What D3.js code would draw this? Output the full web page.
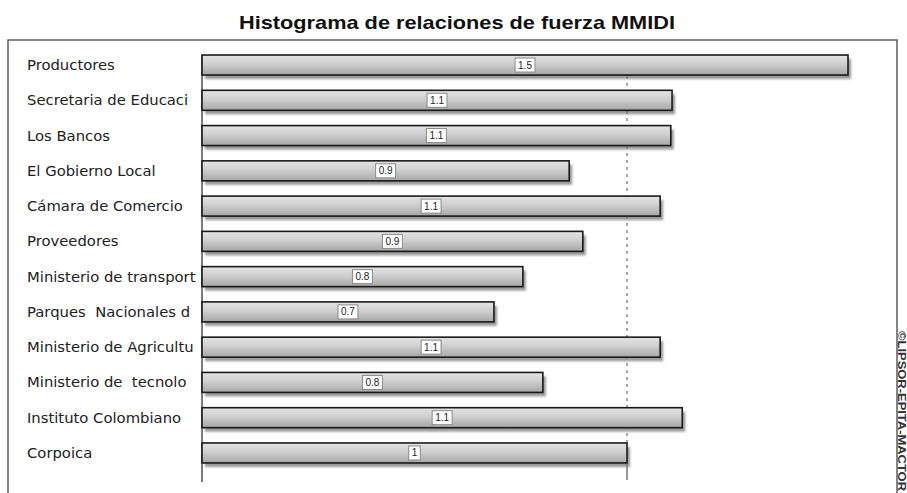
<!DOCTYPE html>
<html>
<head>
<meta charset="utf-8">
<script src="https://cdn.jsdelivr.net/npm/d3@7"></script>
<style>
  body { margin: 0; background: #fff; }
  svg { display: block; }
</style>
</head>
<body>
<script>
// data
var categories = ["Productores", "Secretaria de Educaci", "Los Bancos", "El Gobierno Local",
  "Cámara de Comercio", "Proveedores", "Ministerio de transport", "Parques  Nacionales d",
  "Ministerio de Agricultu", "Ministerio de  tecnolo", "Instituto Colombiano", "Corpoica"];
var values = [1.52, 1.106, 1.103, 0.864, 1.078, 0.896, 0.755, 0.687, 1.078, 0.802, 1.13, 1.0];
var gridValues = [1];

var width = 907, height = 493;

var svg = d3.select("body").append("svg")
  .attr("width", width)
  .attr("height", height);

var defs = svg.append("defs");
var grad = defs.append("linearGradient")
  .attr("id", "barGrad")
  .attr("x1", 0).attr("y1", 0).attr("x2", 0).attr("y2", 1);
grad.append("stop").attr("offset", "0%").attr("stop-color", "#e4e4e4");
grad.append("stop").attr("offset", "45%").attr("stop-color", "#cfcfcf");
grad.append("stop").attr("offset", "100%").attr("stop-color", "#a6a6a6");

var blur = defs.append("filter").attr("id", "soft")
  .attr("x", "-10%").attr("y", "-50%").attr("width", "120%").attr("height", "200%");
blur.append("feGaussianBlur").attr("stdDeviation", 1.3);

//title
svg.append("text")
  .attr("x", 457)
  .attr("y", 29)
  .attr("text-anchor", "middle")
  .attr("font-family", "Liberation Sans, Arial, sans-serif")
  .attr("font-weight", "bold")
  .attr("font-size", 19)
  .attr("textLength", 436)
  .attr("lengthAdjust", "spacingAndGlyphs")
  .attr("fill", "#111")
  .text("Histograma de relaciones de fuerza MMIDI");

//frame
svg.append("rect")
  .attr("x", 8).attr("y", 40)
  .attr("width", 889).attr("height", 520)
  .attr("fill", "none")
  .attr("stroke", "#444")
  .attr("stroke-width", 1.3);

//scales
var xScale = d3.scaleLinear().domain([0, 1]).range([202, 627]);
var yScale = d3.scaleBand()
  .domain(categories)
  .range([47.4, 470.6])
  .paddingInner(0.433)
  .paddingOuter(0.2165);

//grid line at 1 and axis
svg.selectAll(".grid")
  .data(gridValues)
  .enter().append("line")
  .attr("class", "grid")
  .attr("x1", function(d){ return xScale(d); })
  .attr("x2", function(d){ return xScale(d); })
  .attr("y1", 55).attr("y2", 465)
  .attr("stroke", "#555")
  .attr("stroke-width", 1)
  .attr("stroke-dasharray", "3,4");

svg.selectAll(".tick")
  .data(gridValues)
  .enter().append("line")
  .attr("class", "tick")
  .attr("x1", function(d){ return xScale(d); })
  .attr("x2", function(d){ return xScale(d); })
  .attr("y1", 464).attr("y2", 480)
  .attr("stroke", "#333");

svg.append("line")
  .attr("x1", xScale(0)).attr("x2", xScale(0))
  .attr("y1", 55).attr("y2", 482)
  .attr("stroke", "#222")
  .attr("stroke-width", 1.2);

//category labels
svg.selectAll(".cat")
  .data(categories)
  .enter().append("text")
  .attr("class", "cat")
  .attr("x", 27)
  .attr("y", function(d){ return yScale(d) + yScale.bandwidth() / 2 + 5; })
  .attr("font-family", "DejaVu Sans, sans-serif")
  .attr("font-size", 14.8)
  .attr("fill", "#222")
  .style("white-space", "pre")
  .text(function(d){ return d; });

var rows = categories.map(function(c, i){ return {cat: c, value: values[i]}; });

//shadows
svg.selectAll(".shadow")
  .data(rows)
  .enter().append("rect")
  .attr("class", "shadow")
  .attr("x", function(d){ return xScale(0) + 3; })
  .attr("y", function(d){ return yScale(d.cat) + 4; })
  .attr("width", function(d){ return xScale(d.value) - xScale(0); })
  .attr("height", yScale.bandwidth())
  .attr("fill", "#777")
  .attr("opacity", 0.75)
  .attr("filter", "url(#soft)");

//bars
svg.selectAll(".bar")
  .data(rows)
  .enter().append("rect")
  .attr("class", "bar")
  .attr("x", xScale(0))
  .attr("y", function(d){ return yScale(d.cat); })
  .attr("width", function(d){ return xScale(d.value) - xScale(0); })
  .attr("height", yScale.bandwidth())
  .attr("fill", "url(#barGrad)")
  .attr("stroke", "#1a1a1a")
  .attr("stroke-width", 1.6);

//value labels
var fmt = function(v){ return String(+v.toFixed(1)); };
var labels = svg.selectAll(".vlab")
  .data(rows)
  .enter().append("g")
  .attr("class", "vlab")
  .attr("transform", function(d){
    return "translate(" + (xScale(0) + xScale(d.value)) / 2 + "," + (yScale(d.cat) + yScale.bandwidth() / 2) + ")";
  });

labels.append("text")
  .attr("text-anchor", "middle")
  .attr("y", 3.5)
  .attr("font-family", "Liberation Sans, Arial, sans-serif")
  .attr("font-size", 10)
  .attr("fill", "#222")
  .text(function(d){ return fmt(d.value); });

labels.each(function(){
  var g = d3.select(this);
  var w = g.select("text").node().getComputedTextLength();
  g.insert("rect", "text")
    .attr("x", -w / 2 - 3)
    .attr("y", -7)
    .attr("width", w + 6)
    .attr("height", 14)
    .attr("fill", "#fff")
    .attr("stroke", "#8a8a8a")
    .attr("stroke-width", 1);
});

//watermark
svg.append("text")
  .attr("transform", "translate(898,331) rotate(90)")
  .attr("font-family", "Liberation Sans, Arial, sans-serif")
  .attr("font-size", 10)
  .attr("font-weight", "bold")
  .attr("fill", "#333")
  .attr("textLength", 160)
  .attr("lengthAdjust", "spacingAndGlyphs")
  .text("©LIPSOR-EPITA-MACTOR");
</script>
</body>
</html>
